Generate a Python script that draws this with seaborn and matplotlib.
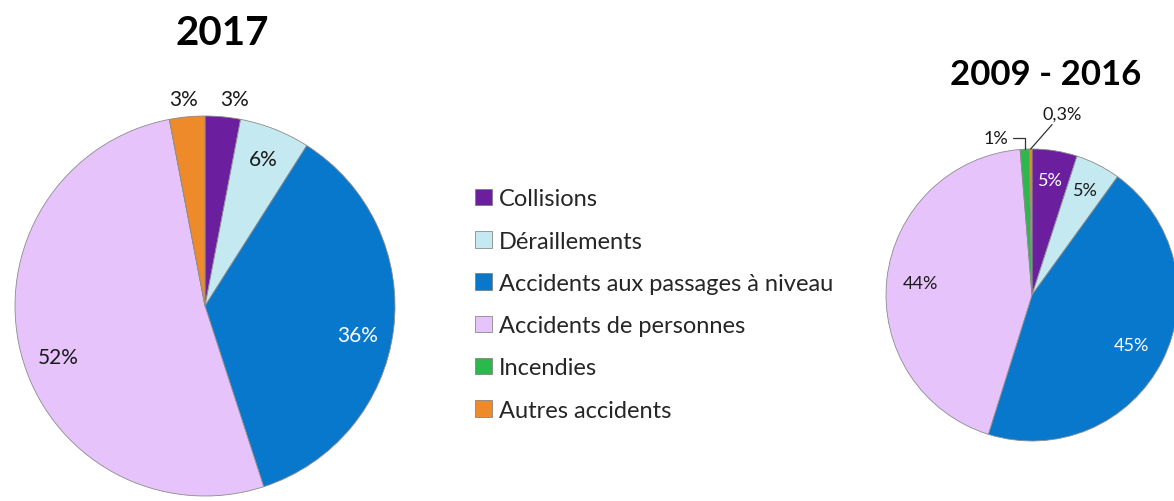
#!/usr/bin/env python3
"""
Accidents ferroviaires par type : 2017 vs moyenne 2009 - 2016.
"""

import numpy as np
import matplotlib

matplotlib.use("Agg")
import matplotlib.pyplot as plt
import seaborn as sns


CATEGORIES = [
    "Collisions",
    "Déraillements",
    "Accidents aux passages à niveau",
    "Accidents de personnes",
    "Incendies",
    "Autres accidents",
]
SHARE_2017 = [3, 6, 36, 52, 0, 3]
LABELS_2017 = ["3%", "6%", "36%", "52%", "", "3%"]
SHARE_0916 = [5, 5, 45, 44, 1, 0.3]
LABELS_0916 = ["5%", "5%", "45%", "44%", "1%", "0,3%"]

COLORS = ["#6b1f9e", "#c4e9f0", "#0878cc", "#e6c3fa", "#2db84d", "#ee8a2a"]
TEXT_COLORS = ["#1a1a1a", "#1a1a1a", "white", "#1a1a1a", "#1a1a1a", "#1a1a1a"]


def mid_angles(values):
    vals = np.asarray(values, dtype=float)
    frac = vals / vals.sum()
    cum = np.cumsum(frac) - frac / 2
    # clockwise from the top, as the pies are drawn
    return np.deg2rad(90 - cum * 360)


def polar(theta, r):
    return r * np.cos(theta), r * np.sin(theta)


def draw_pie(ax, values):
    wedges, _ = ax.pie(
        values,
        colors=COLORS,
        startangle=90,
        counterclock=False,
        radius=1,
        wedgeprops=dict(edgecolor="#8c8c8c", linewidth=0.6),
    )
    ax.set_xlim(-1, 1)
    ax.set_ylim(-1, 1)
    ax.set_aspect("equal")
    ax.axis("off")
    return wedges


sns.set_theme(style="white")
plt.rcParams["font.family"] = ["Lato", "DejaVu Sans"]

fig = plt.figure(figsize=(11.74, 5.02), dpi=100)

# left pie: 2017
ax1 = fig.add_axes([15 / 1174, 5 / 502, 380 / 1174, 380 / 502])
draw_pie(ax1, SHARE_2017)
theta = mid_angles(SHARE_2017)
dist_2017 = [1.12, 0.83, 0.81, 0.82, 0, 1.12]
shift_2017 = [(0.05, -0.025), (0, 0), (0, -0.05), (0.02, -0.065), (0, 0), (-0.01, -0.025)]
for i, lab in enumerate(LABELS_2017):
    if not lab:
        continue
    x, y = polar(theta[i], dist_2017[i])
    ax1.text(x + shift_2017[i][0], y + shift_2017[i][1], lab, ha="center",
             va="center", fontsize=15, color=TEXT_COLORS[i])

# right pie: 2009 - 2016
ax2 = fig.add_axes([886 / 1174, 60 / 502, 292 / 1174, 292 / 502])
draw_pie(ax2, SHARE_0916)
theta = mid_angles(SHARE_0916)
dist_0916 = [0.80, 0.81, 0.76, 0.77]
text_col_0916 = ["white", "#1a1a1a", "white", "#1a1a1a"]
for i in range(4):
    x, y = polar(theta[i], dist_0916[i])
    ax2.text(x, y, LABELS_0916[i], ha="center", va="center",
             fontsize=13, color=text_col_0916[i])

# small slices get leader lines
xe, ye = polar(theta[4], 1.0)
ax2.annotate(LABELS_0916[4], xy=(xe, ye), xytext=(xe - 0.11, ye + 0.08),
             ha="right", va="center", fontsize=13, color="#1a1a1a",
             arrowprops=dict(arrowstyle="-", color="#333333", lw=0.9,
                             connectionstyle="angle,angleA=0,angleB=90,rad=0",
                             shrinkA=1, shrinkB=0))
xe, ye = polar(theta[5], 1.0)
ax2.annotate(LABELS_0916[5], xy=(xe, ye), xytext=(xe + 0.08, ye + 0.19),
             ha="left", va="bottom", fontsize=13, color="#1a1a1a",
             arrowprops=dict(arrowstyle="-", color="#333333", lw=0.9,
                             shrinkA=0, shrinkB=0))

# titles
fig.text(222 / 1174, 1 - 34 / 502, "2017", ha="center", va="center",
         fontsize=29, fontweight="bold", color="black")
fig.text(1046 / 1174, 1 - 75 / 502, "2009 - 2016", ha="center", va="center",
         fontsize=25, fontweight="bold", color="black")

# legend
handles = [plt.Rectangle((0, 0), 1, 1, facecolor=c, edgecolor="#777777",
                         linewidth=0.5) for c in COLORS]
fig.legend(
    handles,
    CATEGORIES,
    loc="upper left",
    bbox_to_anchor=(466 / 1174, 1 - 180 / 502),
    frameon=False,
    fontsize=17,
    handlelength=0.7,
    handleheight=0.7,
    handletextpad=0.3,
    labelspacing=0.9,
    borderaxespad=0,
)

fig.savefig("out.png", dpi=100)
